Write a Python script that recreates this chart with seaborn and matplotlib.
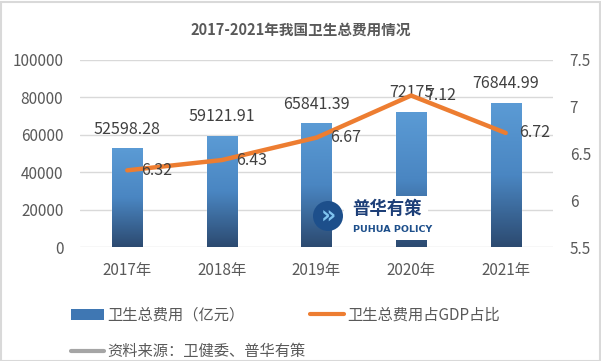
import numpy as np
import matplotlib
matplotlib.use("Agg")
import matplotlib.pyplot as plt
from matplotlib.ticker import FuncFormatter
from matplotlib.colors import LinearSegmentedColormap
from matplotlib.patches import Rectangle, Ellipse, Patch
from matplotlib.lines import Line2D
import seaborn as sns

years = ["2017年", "2018年", "2019年", "2020年", "2021年"]
spend = [52598.28, 59121.91, 65841.39, 72175, 76844.99]
spend_labels = ["52598.28", "59121.91", "65841.39", "72175", "76844.99"]
gdp_ratio = [6.32, 6.43, 6.67, 7.12, 6.72]

sns.set_style("white")
plt.rcParams["font.family"] = ["Noto Sans CJK SC", "DejaVu Sans"]
plt.rcParams["axes.unicode_minus"] = False

txt = "#595959"
grid = "#D9D9D9"
orange = "#ED7D31"

fig = plt.figure(figsize=(6.01, 3.61), dpi=100)
ax = fig.add_axes([80 / 601, 1 - 247 / 361, 473 / 601, 187 / 361])

sns.barplot(x=years, y=spend, ax=ax, width=0.32, color="#5B9BD5", saturation=1)

# vertical gradient on the bars
cmap = LinearSegmentedColormap.from_list("g", ["#2C4A70", "#4A86C2", "#5B9BD5"])
grad = np.linspace(1, 0, 256).reshape(-1, 1)
for p in ax.patches:
    x0, y0 = p.get_x(), p.get_y()
    w, h = p.get_width(), p.get_height()
    ax.imshow(grad, extent=[x0, x0 + w, y0, y0 + h], cmap=cmap,
              aspect="auto", zorder=2)
    p.set_facecolor("none")
ax.set_xlim(-0.5, 4.5)
ax.set_ylim(0, 100000)

for i, v in enumerate(spend):
    ax.annotate(spend_labels[i], (i, v), xytext=(0, 8), textcoords="offset points",
                ha="center", va="bottom", fontsize=11.5, color="#404040")

ax.set_yticks(np.arange(0, 100001, 20000))
ax.yaxis.set_major_formatter(FuncFormatter(lambda v, p: f"{v:.0f}"))
ax.grid(axis="y", color=grid, linewidth=1)
ax.set_axisbelow(True)
for s in ax.spines.values():
    s.set_visible(False)
ax.tick_params(axis="both", length=0, labelsize=11, labelcolor=txt)
ax.tick_params(axis="y", pad=12)
ax.tick_params(axis="x", pad=11)
ax.set_xlabel("")
ax.set_ylabel("")

ax2 = ax.twinx()
sns.lineplot(x=np.arange(len(years)), y=gdp_ratio, ax=ax2, color=orange,
             linewidth=3.2, solid_capstyle="round", solid_joinstyle="round")
ax2.set_ylim(5.5, 7.5)
ax2.set_yticks([5.5, 6, 6.5, 7, 7.5])
ax2.yaxis.set_major_formatter(FuncFormatter(lambda v, p: f"{v:g}"))
for s in ax2.spines.values():
    s.set_visible(False)
ax2.tick_params(axis="y", length=0, labelsize=11, labelcolor=txt, pad=12)
ax2.set_ylabel("")
for i, v in enumerate(gdp_ratio):
    ax2.annotate(f"{v:.2f}", (i, v), xytext=(10, 0), textcoords="offset points",
                 ha="left", va="center", fontsize=11.5, color="#404040")

fig.text(0.5, 1 - 30 / 361, "2017-2021年我国卫生总费用情况", ha="center", va="center",
         fontsize=10.5, fontweight="bold", color=txt)

# watermark logo
fig.patches.append(Rectangle((344 / 601, 1 - 240 / 361), 84 / 601, 44 / 361,
                             transform=fig.transFigure, facecolor="white",
                             edgecolor="none", zorder=5))
fig.patches.append(Ellipse((328 / 601, 1 - 216 / 361), 30 / 601, 30 / 361,
                           transform=fig.transFigure, facecolor="#1D4F8B",
                           edgecolor="none", zorder=6))
fig.text(328 / 601, 1 - 217 / 361, "»", ha="center", va="center", fontsize=17,
         fontweight="bold", color="#7FC4F0", zorder=7, family="DejaVu Sans")
fig.text(352 / 601, 1 - 209 / 361, "普华有策", ha="left", va="center", fontsize=12.5,
         fontweight="bold", color="#1D3F78", zorder=7)
fig.text(353 / 601, 1 - 229 / 361, "PUHUA POLICY", ha="left", va="center", fontsize=6.8,
         fontweight="bold", color="#1D4F8B", zorder=7, family="DejaVu Sans")

handles = [
    Patch(facecolor="#3F77B3", edgecolor="none"),
    Line2D([], [], color="#A5A5A5", linewidth=3),
    Line2D([], [], color=orange, linewidth=3),
]
labels = ["卫生总费用（亿元）", "资料来源：卫健委、普华有策", "卫生总费用占GDP占比"]
fig.legend(handles, labels, loc="upper left", bbox_to_anchor=(57 / 601, 1 - 293 / 361),
           ncol=2, frameon=False, fontsize=11, labelcolor=txt, handlelength=2.2,
           handleheight=0.7, handletextpad=0.2, columnspacing=0.3, labelspacing=1.25)

fig.patches.append(Rectangle((0.5 / 601, 0.5 / 361), 599 / 601, 359 / 361,
                             transform=fig.transFigure, facecolor="none",
                             edgecolor="#D9D9D9", linewidth=1.5))

fig.savefig("out.png", dpi=100)
